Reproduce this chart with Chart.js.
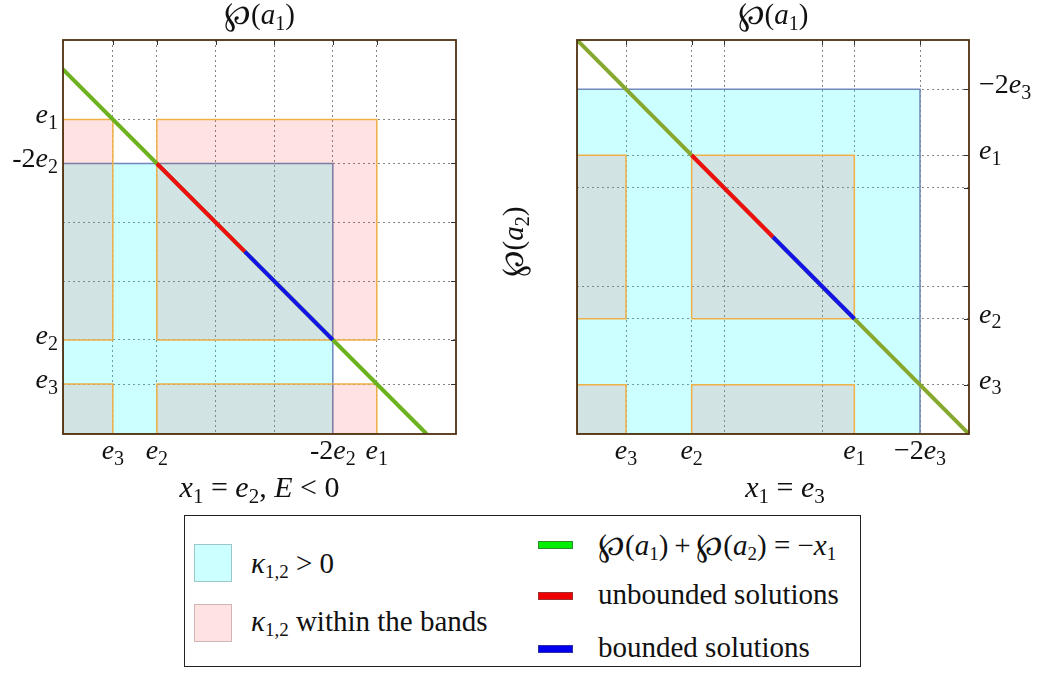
<!DOCTYPE html>
<html>
<head>
<meta charset="utf-8">
<script src="https://cdn.jsdelivr.net/npm/chart.js@4.4.0/dist/chart.umd.min.js"></script>
<style>
  body { margin: 0; background: #fff; width: 1045px; height: 673px; position: relative; overflow: hidden; }
  #leftBox { position: absolute; left: 0; top: 0; }
  #rightBox { position: absolute; left: 490px; top: 0; }
  #legend { position: absolute; left: 184px; top: 515px; width: 675px; height: 150px; border: 1px solid #222;
            font-family: "Liberation Serif", "DejaVu Serif", serif; font-size: 29px; color: #111; }
  #legend .sw { position: absolute; width: 36px; height: 36px; border: 1px solid; }
  #legend .bar { position: absolute; width: 33px; height: 6px; border: 1px solid; }
  #legend .tx { position: absolute; height: 34px; line-height: 34px; white-space: nowrap; }
  #legend sub { font-size: 19px; vertical-align: -5px; line-height: 0; }
  #legend .wp { font-size: 32px; }
</style>
</head>
<body>
<div id="leftBox"><canvas id="left" width="490" height="510"></canvas></div>
<div id="rightBox"><canvas id="right" width="555" height="510"></canvas></div>
<div id="legend">
  <div class="sw" style="left:9px;top:28px;background:#ccffff;border-color:#9cc6c6"></div>
  <div class="tx" style="left:66px;top:30px"><i>κ</i><sub>1,2</sub> &gt; 0</div>
  <div class="sw" style="left:9px;top:88px;background:#ffe3e3;border-color:#d2b4b4"></div>
  <div class="tx" style="left:66px;top:88px"><i>κ</i><sub>1,2</sub> within the bands</div>
  <div class="bar" style="left:353px;top:25px;background:#00ee00;border-color:#2f8a2f"></div>
  <div class="tx" style="left:413px;top:11px"><span class="wp">℘</span>(<i>a</i><sub>1</sub>)&#8201;+&#8201;<span class="wp">℘</span>(<i>a</i><sub>2</sub>) = −<i>x</i><sub>1</sub></div>
  <div class="bar" style="left:353px;top:76px;background:#ee0000;border-color:#a03030"></div>
  <div class="tx" style="left:413px;top:61px">unbounded solutions</div>
  <div class="bar" style="left:353px;top:129px;background:#0000ee;border-color:#3030a0"></div>
  <div class="tx" style="left:413px;top:114px">bounded solutions</div>
</div>
<script>
// left panel: x1 = e2, E < 0  (e3 = -1.75, e2 = -1, e1 = 2.75)
const leftRange = [-2.6, 4.1];
const leftTicks = [-1.75, -1, 0, 1, 2, 2.75];
const leftTickLabels = ['e_3', 'e_2', '', '', '-2e_2', 'e_1'];
// rectangles as [xmin, xmax, ymin, ymax]
const leftCyan = [[-2.6, 2, -2.6, 2]];
const leftPink = [[-2.6, -1.75, -2.6, -1.75], [-2.6, -1.75, -1, 2.75], [-1, 2.75, -2.6, -1.75], [-1, 2.75, -1, 2.75]];
const leftGreen = [[-2.6, 3.6], [3.6, -2.6]];
const leftRed = [[-1, 2], [0.5, 0.5]];
const leftBlue = [[0.5, 0.5], [2, -1]];

// right panel: x1 = e3  (e3 = -1, e2 = -0.33, e1 = 1.33)
const rightRange = [-1.5, 2.5];
const rightTicks = [-1, -0.33, 0, 1, 1.33, 2];
const rightTickLabels = ['e_3', 'e_2', '', '', 'e_1', '−2e_3'];
const rightCyan = [[-1.5, 2, -1.5, 2]];
const rightPink = [[-1.5, -1, -1.5, -1], [-1.5, -1, -0.33, 1.33], [-0.33, 1.33, -1.5, -1], [-0.33, 1.33, -0.33, 1.33]];
const rightGreen = [[-1.5, 2.5], [2.5, -1.5]];
const rightRed = [[-0.33, 1.33], [0.5, 0.5]];
const rightBlue = [[0.5, 0.5], [1.33, -0.33]];

const FONT = '"Liberation Serif", "DejaVu Serif", serif';

// split "e_1" style text into italic letters / upright symbols / subscripts
function pieces(str, size) {
  const out = [];
  for (let i = 0; i < str.length; i++) {
    let ch = str[i];
    if (ch === '_') {
      ch = str[++i];
      out.push({ t: ch, f: Math.round(size * 0.7) + 'px ' + FONT, dy: size * 0.2 });
      continue;
    }
    const it = /[A-Za-z]/.test(ch);
    const big = ch === '℘' ? 1.1 : 1;
    out.push({ t: ch, f: (it ? 'italic ' : '') + Math.round(size * big) + 'px ' + FONT, dy: 0 });
  }
  return out;
}

function drawMath(ctx, str, x, y, size, align) {
  const ps = pieces(str, size);
  let w = 0;
  ps.forEach(p => { ctx.font = p.f; p.w = ctx.measureText(p.t).width; w += p.w; });
  let cx = align === 'right' ? x - w : align === 'left' ? x : x - w / 2;
  ctx.textAlign = 'left';
  ctx.textBaseline = 'alphabetic';
  ctx.fillStyle = '#111';
  ps.forEach(p => { ctx.font = p.f; ctx.fillText(p.t, cx, y + p.dy); cx += p.w; });
}

function pts(arr) {
  return arr.map(p => ({ x: p[0], y: p[1] }));
}

function rectPts(r) {
  return [{ x: r[0], y: r[2] }, { x: r[0], y: r[3] }, { x: r[1], y: r[3] }, { x: r[1], y: r[2] }, { x: r[0], y: r[2] }];
}

function lineDs(arr, color) {
  return { data: pts(arr), showLine: true, borderColor: color, borderWidth: 4, pointRadius: 0, fill: false, borderCapStyle: 'butt' };
}

function rectDs(r, fillColor, edge) {
  return { data: rectPts(r), showLine: true, borderColor: edge, borderWidth: 1.5, backgroundColor: fillColor, pointRadius: 0, fill: 'shape' };
}

function axis(range, ticks) {
  return {
    type: 'linear',
    min: range[0],
    max: range[1],
    afterBuildTicks: s => { s.ticks = ticks.map(v => ({ value: v })); },
    ticks: { display: false },
    grid: { color: '#858585', lineWidth: 1, drawTicks: false },
    border: { display: false, dash: [2, 3] }
  };
}

function decor(cfg) {
  return {
    id: 'decor',
    afterDraw(chart) {
      const { ctx, chartArea: a, scales: { x, y } } = chart;
      ctx.save();
      ctx.strokeStyle = '#333';
      ctx.lineWidth = 1;
      cfg.ticks.forEach(v => {
        const px = Math.round(x.getPixelForValue(v)) + 0.5;
        const py = Math.round(y.getPixelForValue(v)) + 0.5;
        ctx.beginPath();
        ctx.moveTo(px, a.top); ctx.lineTo(px, a.top + 5);
        ctx.moveTo(a.right, py); ctx.lineTo(a.right - 5, py);
        ctx.stroke();
      });
      ctx.strokeStyle = '#4e300e';
      ctx.lineWidth = 1.8;
      ctx.strokeRect(a.left, a.top, a.right - a.left, a.bottom - a.top);

      cfg.ticks.forEach((v, i) => {
        const lab = cfg.labels[i];
        if (!lab) return;
        drawMath(ctx, lab, x.getPixelForValue(v), a.bottom + 25, 28, 'center');
        if (cfg.yLeft) drawMath(ctx, lab, a.left - 5, y.getPixelForValue(v) + 4, 28, 'right');
        else drawMath(ctx, lab, a.right + 10, y.getPixelForValue(v) + 4, 28, 'left');
      });
      const mid = (a.left + a.right) / 2;
      drawMath(ctx, '℘(a_1)', mid, 24, 29, 'center');
      drawMath(ctx, cfg.bottom, mid + cfg.bottomShift, 497, 30, 'center');
      if (cfg.yTitle) {
        ctx.translate(a.left - 54, (a.top + a.bottom) / 2 + 5);
        ctx.rotate(-Math.PI / 2);
        drawMath(ctx, cfg.yTitle, 0, 0, 29, 'center');
      }
      ctx.restore();
    }
  };
}

function makePanel(id, cfg) {
  const ds = [];
  ds.push(lineDs(cfg.blue, '#1414e6'));
  ds.push(lineDs(cfg.red, '#ee1010'));
  ds.push(lineDs(cfg.green, cfg.greenColor));
  cfg.pink.forEach(r => ds.push(rectDs(r, 'rgba(255,0,0,0.11)', '#f0b048')));
  cfg.cyan.forEach(r => ds.push(rectDs(r, 'rgba(0,255,255,0.2)', '#7088bb')));
  ds.forEach((d, i) => { d.order = i; });
  new Chart(document.getElementById(id), {
    type: 'scatter',
    data: { datasets: ds },
    options: {
      responsive: false,
      animation: false,
      events: [],
      layout: { padding: cfg.pad },
      plugins: { legend: { display: false }, tooltip: { enabled: false } },
      scales: { x: axis(cfg.range, cfg.ticks), y: axis(cfg.range, cfg.ticks) }
    },
    plugins: [decor(cfg)]
  });
}

makePanel('left', {
  range: leftRange, ticks: leftTicks, labels: leftTickLabels,
  cyan: leftCyan, pink: leftPink, green: leftGreen, red: leftRed, blue: leftBlue,
  greenColor: '#6cb21e', pad: { left: 63, top: 40, right: 34, bottom: 76 },
  yLeft: true, bottom: 'x_1 = e_2, E < 0', bottomShift: 0
});

makePanel('right', {
  range: rightRange, ticks: rightTicks, labels: rightTickLabels,
  cyan: rightCyan, pink: rightPink, green: rightGreen, red: rightRed, blue: rightBlue,
  greenColor: '#86a82e', pad: { left: 87, top: 40, right: 76, bottom: 76 },
  yLeft: false, bottom: 'x_1 = e_3', bottomShift: 12, yTitle: '℘(a_2)'
});
</script>
</body>
</html>
